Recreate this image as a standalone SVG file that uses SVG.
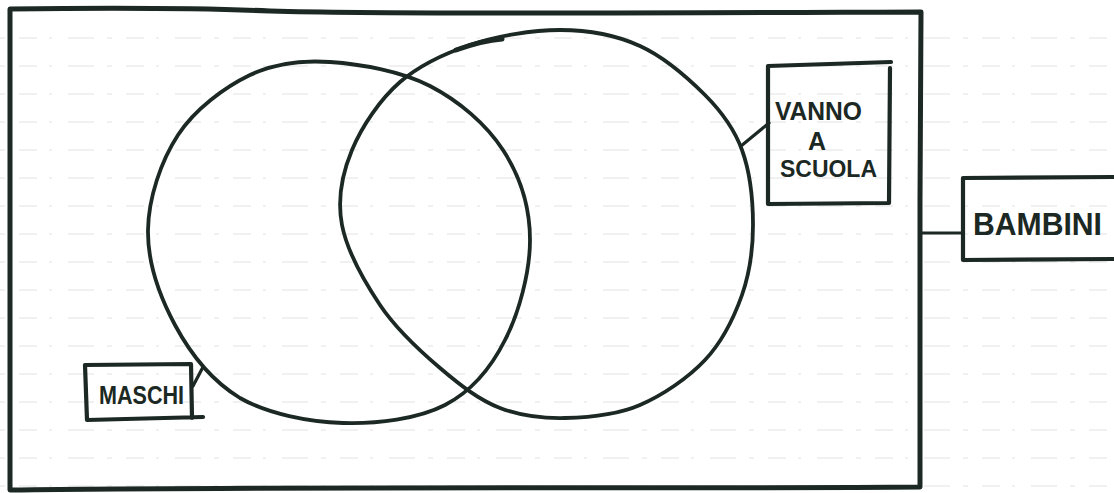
<svg xmlns="http://www.w3.org/2000/svg" width="1114" height="493" viewBox="0 0 1114 493">
<style>
.rule{stroke:#e2e2e2;stroke-width:1;stroke-dasharray:5 14 18 12 3 16 26 13;fill:none}
.ink{fill:none;stroke:#1b2823;stroke-linecap:round;stroke-linejoin:round}
.frame{stroke-width:5}
.shape{stroke-width:3.8}
.box{stroke-width:4.2}
.conn{stroke-width:3.2}
.lbl{font-family:"Liberation Sans","DejaVu Sans",sans-serif;fill:#1b2823;font-weight:bold}
</style>
<rect width="1114" height="493" fill="#ffffff"/>
<g id="paper-lines">
<path class="rule" d="M0,38H1114M0,66H1114M0,94H1114M0,122H1114M0,150H1114M0,178H1114M0,206H1114M0,234H1114M0,262H1114M0,290H1114M0,318H1114M0,346H1114M0,374H1114M0,402H1114M0,430H1114M0,458H1114M0,486H1114"/>
</g>
<g id="bambini-set">
<path class="ink frame" d="M10,9 C90,8 200,8 270,11 C380,14 600,13 921,12 L920,200 L920,487 C700,489 300,486 10,490 Z"/>
</g>
<g id="maschi-set">
<path class="ink shape" d="M330,62 C360,64 401,71 430,86 C459,101 486,124 503,150 C520,176 530,208 530,240 C530,272 519,313 505,340 C491,368 472,391 445,405 C418,419 377,424 343,423 C309,422 268,414 240,398 C212,381 190,353 175,325 C160,297 147.5,262 148,230 C148.5,198 161,161 178,135 C195,109 225,87 250,75 C275,63 300,60 330,62 Z"/>
</g>
<g id="scuola-set">
<path class="ink shape" d="M560,30 C588,30 616,35 640,46 C664,57 688,78 705,95 C722,112 734,128 742,150 C750,172 753,201 753,225 C753,249 750,272 742,295 C734,317.5 722,342 705,360 C688,378 663,395 640,405 C617,415 588,417.5 565,418 C542,418.5 521,416 500,408 C479,400 460,385 440,368 C420,351 396,329 380,305 C364,281 347,251 342,225 C337,199 342,174 352,150 C362,126 380,99.5 400,82 C420,65 443,54 470,45 C497,36 532,30 560,30 Z"/>
<path class="ink" stroke-width="5" d="M456,50 C470,45 488,40 502,39"/>
</g>
<g id="label-vanno">
<path class="ink box" d="M768,66 L891,62 M890,68 L889,203 L768,204 L768,66"/>
<text class="lbl" x="775" y="120" font-size="26" textLength="87" lengthAdjust="spacingAndGlyphs">VANNO</text>
<text class="lbl" x="817" y="150" font-size="25" text-anchor="middle">A</text>
<text class="lbl" x="780" y="177" font-size="24" textLength="97" lengthAdjust="spacingAndGlyphs">SCUOLA</text>
</g>
<g id="label-bambini">
<path class="ink box" d="M1114,177 L963,178 L963,260 L1114,259"/>
<text class="lbl" x="973" y="235" font-size="32" textLength="129" lengthAdjust="spacingAndGlyphs">BAMBINI</text>
</g>
<g id="label-maschi">
<path class="ink box" d="M85,365 L191,364 L192,418 M203,417 L87,420 L85,365"/>
<text class="lbl" x="99" y="404" font-size="26" textLength="85" lengthAdjust="spacingAndGlyphs">MASCHI</text>
</g>
<g id="connectors">
<path class="ink conn" d="M741,146 L769,123"/>
<path class="ink conn" d="M921,233 L963,233"/>
<path class="ink conn" d="M193,386 L203,367"/>
</g>
</svg>
